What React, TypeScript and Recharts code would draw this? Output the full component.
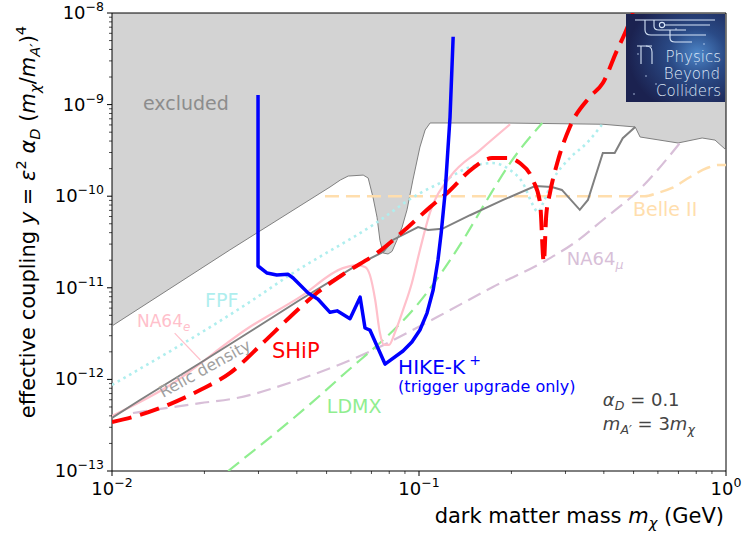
import React from "react";
import { Area, ComposedChart, Line, ReferenceArea, ReferenceDot, XAxis, YAxis } from "recharts";

const X_MIN = 0.01;
const X_MAX = 1;
const Y_MIN = 1e-13;
const Y_MAX = 1e-8;

const xMajor = [0.01, 0.1, 1];
const yMajor = [1e-13, 1e-12, 1e-11, 1e-10, 1e-9, 1e-8];

// excluded region (upper boundary)
const excludedMass = [0.01, 0.0242, 0.0513, 0.0554, 0.0588, 0.0658, 0.0683, 0.0708, 0.073, 0.0746, 0.0764, 0.0793, 0.0817, 0.0847, 0.0881, 0.0914, 0.0955, 0.1007, 0.1047, 0.1087, 0.188, 0.397, 0.506, 0.525, 0.698, 0.836, 0.921, 1.0];
const excludedCoupling = [3.83e-12, 2.59e-11, 1.26e-10, 1.5e-10, 1.66e-10, 1.7e-10, 1.58e-10, 9.8e-11, 5.9e-11, 3.3e-11, 2.4e-11, 2.34e-11, 2.5e-11, 3.3e-11, 4.6e-11, 7.1e-11, 1.5e-10, 3.44e-10, 5.28e-10, 6.3e-10, 6.3e-10, 6.1e-10, 5.7e-10, 4.43e-10, 3.81e-10, 4.32e-10, 4.1e-10, 3.2e-10];

const relicMass = [0.01, 0.01234, 0.01937, 0.0277, 0.0409, 0.0628, 0.0764, 0.0822, 0.0993, 0.107, 0.119, 0.1466, 0.188, 0.239, 0.271, 0.292, 0.334, 0.355, 0.397, 0.434, 0.461, 0.506];
const relicCoupling = [3.79e-13, 5.96e-13, 1.51e-12, 3.21e-12, 7.36e-12, 1.77e-11, 2.46e-11, 3.33e-11, 4.6e-11, 4.28e-11, 4.4e-11, 6.2e-11, 9.1e-11, 1.29e-10, 1.26e-10, 1.17e-10, 7.1e-11, 9.1e-11, 2.96e-10, 2.96e-10, 4.3e-10, 5.7e-10];

const na64eMass = [0.01, 0.0151, 0.0281, 0.0409, 0.0565, 0.0628, 0.0667, 0.0692, 0.072, 0.0746, 0.0769, 0.0798, 0.0836, 0.0887, 0.0948, 0.1007, 0.1087, 0.1262, 0.158, 0.198];
const na64eCoupling = [3.98e-13, 8.26e-13, 3.73e-12, 7.9e-12, 1.64e-11, 1.77e-11, 1.69e-11, 1.38e-11, 7.36e-12, 3.21e-12, 2.38e-12, 2.38e-12, 3.29e-12, 5.7e-12, 1.13e-11, 2.59e-11, 6.7e-11, 1.62e-10, 3.19e-10, 6.1e-10];
const na64ePointerMass = [0.016, 0.0194];
const na64ePointerCoupling = [3.2e-12, 1.63e-12];

const fpfMass = [0.01, 0.0281, 0.038, 0.0708, 0.1007, 0.117, 0.1466, 0.174, 0.198, 0.218, 0.235, 0.244, 0.2536, 0.273, 0.31, 0.352, 0.394];
const fpfCoupling = [8.7e-13, 7.0e-12, 1.38e-11, 4.85e-11, 1.08e-10, 1.39e-10, 2.08e-10, 2.3e-10, 1.93e-10, 1.39e-10, 8.0e-11, 6.7e-11, 8.4e-11, 1.5e-10, 2.61e-10, 3.81e-10, 6.0e-10];

const ldmxMass = [0.0239, 0.0541, 0.106, 0.139, 0.1665, 0.198, 0.252];
const ldmxCoupling = [1e-13, 9.8e-13, 8.8e-12, 3.3e-11, 9.1e-11, 2.3e-10, 6.3e-10];

const na64muMass = [0.0117, 0.01937, 0.0255, 0.0401, 0.0708, 0.1146, 0.174, 0.2536, 0.327, 0.397, 0.525, 0.708];
const na64muCoupling = [4.3e-13, 5.5e-13, 6.26e-13, 9.8e-13, 2.09e-12, 4.8e-12, 1.02e-11, 1.91e-11, 3.24e-11, 5.5e-11, 1.2e-10, 3.81e-10];

const belleMass = [0.0494, 0.544, 0.596, 0.667, 0.764, 0.867, 0.942, 1.0];
const belleCoupling = [1.0e-10, 1.0e-10, 1.08e-10, 1.23e-10, 1.62e-10, 2.03e-10, 2.19e-10, 2.19e-10];

const shipMass = [0.01, 0.0117, 0.01545, 0.01937, 0.0242, 0.031, 0.038, 0.0469, 0.0582, 0.073, 0.0914, 0.1087, 0.1233, 0.15, 0.173, 0.194, 0.213, 0.235, 0.248, 0.255, 0.2597, 0.267, 0.282, 0.31, 0.36, 0.397, 0.442, 0.469, 0.498];
const shipCoupling = [3.43e-13, 3.89e-13, 5.38e-13, 7.66e-13, 1.17e-12, 2.5e-12, 4.8e-12, 9.0e-12, 1.49e-11, 2.4e-11, 4.5e-11, 7.6e-11, 1.08e-10, 2.03e-10, 2.61e-10, 2.61e-10, 2.3e-10, 1.5e-10, 8.4e-11, 1.91e-11, 6.2e-11, 1.08e-10, 2.3e-10, 5.7e-10, 1.21e-9, 1.72e-9, 3.94e-9, 6.05e-9, 1e-8];

const hikeMass = [0.0299, 0.0299, 0.032, 0.0344, 0.0374, 0.0389, 0.0435, 0.0469, 0.0513, 0.0541, 0.0596, 0.0643, 0.0667, 0.0692, 0.0775, 0.0887, 0.0948, 0.1007, 0.1062, 0.1112, 0.1153, 0.1181, 0.1216, 0.1262, 0.1292];
const hikeCoupling = [1.27e-9, 1.73e-11, 1.45e-11, 1.38e-11, 1.41e-11, 1.28e-11, 8.8e-12, 7.5e-12, 5.4e-12, 5.6e-12, 4.6e-12, 7.9e-12, 3.64e-12, 3.46e-12, 1.47e-12, 2.04e-12, 2.56e-12, 3.46e-12, 5.3e-12, 9.46e-12, 2.01e-11, 3.96e-11, 1.08e-10, 7.3e-10, 5.5e-9];

const FONT = "'DejaVu Sans', sans-serif";

const zip = (xs: number[], ys: number[]) => xs.map((x, i) => ({ x, y: ys[i] }));

// 2..9 x each decade, for the minor ticks
const withMinors = (majors: number[]) =>
  [...majors, ...majors.slice(0, -1).flatMap((d) => [2, 3, 4, 5, 6, 7, 8, 9].map((k) => k * d))].sort((a, b) => a - b);

const xTicks = withMinors(xMajor);
const yTicks = withMinors(yMajor);

const expLabel = (v: number) => {
  const e = Math.round(Math.log10(v));
  return e < 0 ? `\u2212${Math.abs(e)}` : String(e);
};

type Part = [string, string];

// mathtext-ish rich text: n = normal, i = italic, sub/isub = subscript, sup = superscript
function rich(parts: Part[], size: number) {
  let shift = 0;
  return parts.map(([s, k], i) => {
    const small = k === "sub" || k === "isub" || k === "sup";
    const target = k === "sup" ? -size * 0.42 : k === "sub" || k === "isub" ? size * 0.22 : 0;
    const dy = target - shift;
    shift = target;
    return (
      <tspan key={i} dy={dy} fontSize={small ? size * 0.7 : size} fontStyle={k === "i" || k === "isub" ? "italic" : "normal"}>
        {s}
      </tspan>
    );
  });
}

function XTick(props: any) {
  const { x, y, payload } = props;
  const v = payload.value;
  const major = xMajor.includes(v);
  return (
    <g>
      <line x1={x} x2={x} y1={y} y2={y + (major ? 5 : 3)} stroke="#000" strokeWidth={major ? 1 : 0.7} />
      {major ? (
        <text x={x} y={y + 24} textAnchor="middle" fontSize={18} fill="#000" fontFamily={FONT}>
          10
          <tspan dy={-8} fontSize={12.5}>
            {expLabel(v)}
          </tspan>
        </text>
      ) : null}
    </g>
  );
}

function YTick(props: any) {
  const { x, y, payload } = props;
  const v = payload.value;
  const major = yMajor.includes(v);
  return (
    <g>
      <line x1={x - (major ? 5 : 3)} x2={x} y1={y} y2={y} stroke="#000" strokeWidth={major ? 1 : 0.7} />
      {major ? (
        <text x={x - 8} y={y + 6} textAnchor="end" fontSize={18} fill="#000" fontFamily={FONT}>
          10
          <tspan dy={-8} fontSize={12.5}>
            {expLabel(v)}
          </tspan>
        </text>
      ) : null}
    </g>
  );
}

const yLabelParts: Part[] = [
  ["effective coupling ", "n"], ["y", "i"], [" = ", "n"], ["ε", "i"], ["2", "sup"], [" ", "n"],
  ["α", "i"], ["D", "isub"], [" (", "n"], ["m", "i"], ["χ", "isub"], ["/", "n"], ["m", "i"],
  ["A′", "isub"], [")", "n"], ["4", "sup"]
];
const xLabelParts: Part[] = [["dark matter mass ", "n"], ["m", "i"], ["χ", "isub"], [" (GeV)", "n"]];

const renderYLabel = () => (
  <text transform="rotate(-90)" x={-222} y={35} textAnchor="middle" fill="#000" fontFamily={FONT} style={{ whiteSpace: "pre" }}>
    {rich(yLabelParts, 21)}
  </text>
);

const renderXLabel = () => (
  <text x={724} y={523} textAnchor="end" fill="#000" fontFamily={FONT} style={{ whiteSpace: "pre" }}>
    {rich(xLabelParts, 21)}
  </text>
);

// text annotation anchored in data coordinates
function note(key: string, x: number, y: number, parts: Part[], size: number, color: string, rotate = 0) {
  return (
    <ReferenceDot
      key={key}
      x={x}
      y={y}
      r={0}
      fill="none"
      stroke="none"
      shape={(p: any) => (
        <text
          x={p.cx}
          y={p.cy}
          fill={color}
          fontFamily={FONT}
          style={{ whiteSpace: "pre" }}
          transform={rotate ? `rotate(${rotate} ${p.cx} ${p.cy})` : undefined}
        >
          {rich(parts, size)}
        </text>
      )}
    />
  );
}

function Logo() {
  return (
    <svg width={99} height={88} style={{ position: "absolute", left: 626, top: 14 }}>
      <defs>
        <radialGradient id="pbcGlow" cx="72%" cy="45%" r="70%">
          <stop offset="0" stopColor="#4d86c8" />
          <stop offset="0.4" stopColor="#2a4a86" />
          <stop offset="1" stopColor="#1b2250" />
        </radialGradient>
      </defs>
      <rect width={99} height={88} fill="url(#pbcGlow)" />
      {[[12, 40], [30, 70], [50, 15], [78, 30], [88, 60], [62, 78], [8, 80], [40, 55], [70, 50], [20, 62]].map(([cx, cy], i) => (
        <circle key={i} cx={cx} cy={cy} r={0.7} fill="#cfe3ff" />
      ))}
      <g stroke="#d6e4f7" strokeWidth={1.1} fill="none">
        <path d="M9 6 H89" />
        <path d="M19 6 V16 Q19 21 25 21 H80" />
        <circle cx={36} cy={11} r={2.6} />
        <path d="M38.6 11 H84" />
        <path d="M28 6 V12 Q28 16 33 16 H60" />
        <path d="M44 16 V24 Q44 28 49 28 H66" />
        <path d="M11 32 H26 M15 32 V50 M26 38 V50" />
        <path d="M26 38 Q26 32 20 32" />
      </g>
      <g fill="#dfe8f6" fontFamily={FONT} fontSize={15} fontWeight={300} textAnchor="end">
        <text x={95} y={48}>Physics</text>
        <text x={94} y={65}>Beyond</text>
        <text x={95} y={82}>Colliders</text>
      </g>
    </svg>
  );
}

export default function App() {
  const excluded = zip(excludedMass, excludedCoupling);
  const lineProps = { dot: false, activeDot: false, isAnimationActive: false, strokeLinecap: "butt" as const };

  return (
    <div style={{ position: "absolute", left: 0, top: 0, width: 743, height: 536, fontFamily: FONT }}>
      <ComposedChart width={743} height={536} margin={{ top: 13, right: 17, bottom: 0, left: 8 }}>
        <XAxis
          dataKey="x"
          type="number"
          scale="log"
          domain={[X_MIN, X_MAX]}
          allowDataOverflow
          ticks={xTicks}
          interval={0}
          tick={<XTick />}
          tickSize={0}
          tickMargin={0}
          tickLine={false}
          axisLine={false}
          height={65}
          label={renderXLabel}
        />
        <YAxis
          type="number"
          scale="log"
          domain={[Y_MIN, Y_MAX]}
          allowDataOverflow
          ticks={yTicks}
          interval={0}
          tick={<YTick />}
          tickSize={0}
          tickMargin={0}
          tickLine={false}
          axisLine={false}
          width={104}
          label={renderYLabel}
        />

        <Area data={excluded} dataKey="y" type="linear" baseValue={Y_MAX} fill="#d3d3d3" fillOpacity={1} stroke="none" isAnimationActive={false} />
        <Line data={excluded} dataKey="y" type="linear" stroke="#808080" strokeWidth={1} {...lineProps} />

        <Line data={zip(belleMass, belleCoupling)} dataKey="y" type="monotone" stroke="#ffdead" strokeWidth={2.5} strokeDasharray="14 7" {...lineProps} />
        <Line data={zip(na64muMass, na64muCoupling)} dataKey="y" type="monotone" stroke="#d8bfd8" strokeWidth={2.2} strokeDasharray="14 7" {...lineProps} />
        <Line data={zip(ldmxMass, ldmxCoupling)} dataKey="y" type="monotone" stroke="#90ee90" strokeWidth={2.2} strokeDasharray="14 7" {...lineProps} />
        <Line data={zip(fpfMass, fpfCoupling)} dataKey="y" type="monotone" stroke="#afeeee" strokeWidth={2.6} strokeDasharray="2.6 4" {...lineProps} />
        <Line data={zip(na64eMass, na64eCoupling)} dataKey="y" type="monotone" stroke="#ffc0cb" strokeWidth={2.2} {...lineProps} />
        <Line data={zip(na64ePointerMass, na64ePointerCoupling)} dataKey="y" type="linear" stroke="#ffc0cb" strokeWidth={1.2} {...lineProps} />
        <Line data={zip(relicMass, relicCoupling)} dataKey="y" type="linear" stroke="#808080" strokeWidth={2} {...lineProps} />
        <Line data={zip(shipMass, shipCoupling)} dataKey="y" type="monotone" stroke="#ff0000" strokeWidth={4} strokeDasharray="20 9" {...lineProps} />
        <Line data={zip(hikeMass, hikeCoupling)} dataKey="y" type="linear" stroke="#0000ff" strokeWidth={3.5} strokeLinejoin="round" {...lineProps} />

        {note("excluded", 0.01262, 8.73e-10, [["excluded", "n"]], 19, "#8c8c8c")}
        {note("fpf", 0.0201, 6.17e-12, [["FPF", "n"]], 19, "#afeeee")}
        {note("na64e", 0.01206, 3.73e-12, [["NA64", "n"], ["e", "isub"]], 17, "#ffc0cb")}
        {note("relic", 0.01466, 6.26e-13, [["Relic density", "n"]], 16, "#a0a0a0", -29)}
        {note("ship", 0.0332, 1.71e-12, [["SHiP", "n"]], 21, "#ff0000")}
        {note("ldmx", 0.0501, 4.3e-13, [["LDMX", "n"]], 19, "#90ee90")}
        {note("hike", 0.0855, 1.15e-12, [["HIKE-K\u2009", "n"], ["+", "sup"]], 20, "#0000ff")}
        {note("trigger", 0.0855, 7.28e-13, [["(trigger upgrade only)", "n"]], 16, "#0000ff")}
        {note("alpha", 0.397, 5.13e-13, [["α", "i"], ["D", "isub"], [" = 0.1", "n"]], 18, "#444444")}
        {note("mass", 0.397, 2.8e-13, [["m", "i"], ["A′", "isub"], [" = 3", "n"], ["m", "i"], ["χ", "isub"]], 18, "#444444")}
        {note("belle", 0.498, 6.08e-11, [["Belle II", "n"]], 19, "#ffdead")}
        {note("na64mu", 0.303, 1.77e-11, [["NA64", "n"], ["μ", "isub"]], 18, "#d8bfd8")}

        <ReferenceArea x1={X_MIN} x2={X_MAX} y1={Y_MIN} y2={Y_MAX} fill="none" stroke="#000" strokeWidth={1} />
      </ComposedChart>
      <Logo />
    </div>
  );
}
